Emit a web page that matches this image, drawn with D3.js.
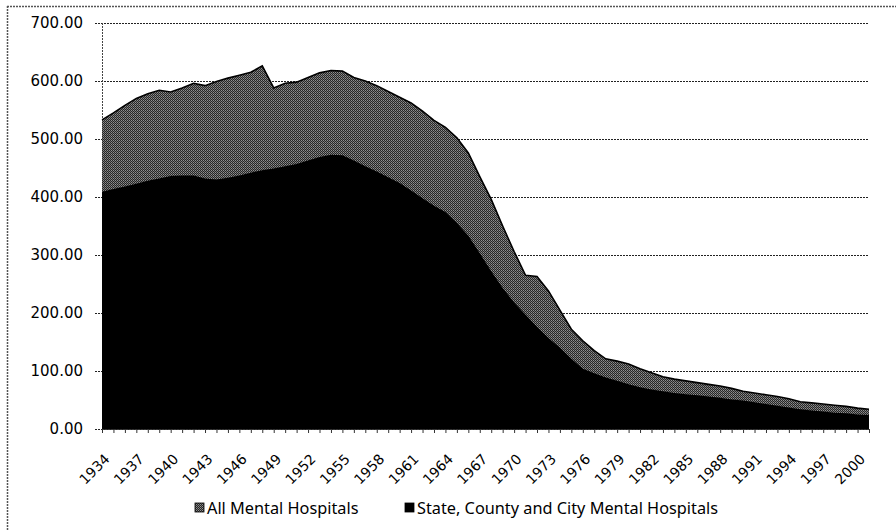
<!DOCTYPE html>
<html>
<head>
<meta charset="utf-8">
<script src="https://cdn.jsdelivr.net/npm/d3@7"></script>
<style>
  body { margin: 0; background: #fff; }
  svg { display: block; }
</style>
</head>
<body>
<svg width="896" height="531"></svg>
<script>
const width = 896, height = 531;
const svg = d3.select("svg");

// categories: one point per year, 1934 to 2001
const years = d3.range(1934, 2002);

const allHospitals = [
  533, 545, 558, 570, 578, 584, 581, 588, 596, 592,
  599, 605, 610, 615, 626, 588, 596, 598, 606, 614,
  618, 617, 606, 600, 592, 582, 572, 562, 548, 532,
  520, 502, 476, 435, 396, 350, 306, 265, 263, 238,
  205, 172, 152, 135, 121, 117, 112, 104, 97, 90,
  86, 83, 80, 77, 74, 70, 65, 62, 59, 56,
  52, 47, 45, 43, 41, 39, 36, 34
];

const stateHospitals = [
  409, 414, 418, 423, 428, 432, 436, 437, 437, 432,
  430, 433, 437, 442, 446, 449, 453, 457, 463, 469,
  473, 472, 463, 453, 444, 434, 424, 411, 398, 385,
  374, 355, 333, 303, 272, 243, 218, 197, 176, 157,
  140, 121, 104, 96, 89, 83, 77, 72, 68, 65,
  62, 60, 58, 56, 54, 51, 49, 46, 43, 40,
  37, 34, 32, 30, 28, 27, 25, 24
];

const yTicks = [0, 100, 200, 300, 400, 500, 600, 700];
const xLabelYears = [1934, 1937, 1940, 1943, 1946, 1949, 1952, 1955, 1958, 1961, 1964,
  1967, 1970, 1973, 1976, 1979, 1982, 1985, 1988, 1991, 1994, 1997, 2000];
const seriesNames = ["All Mental Hospitals", "State, County and City Mental Hospitals"];

const plot = { left: 102, right: 869, top: 23, bottom: 429 };

const x = d3.scaleLinear().domain([1934, 2001]).range([plot.left, plot.right]);
const y = d3.scaleLinear().domain([0, 700]).range([plot.bottom, plot.top]);

// dithered grey fill like the scanned original
const defs = svg.append("defs");
const pat = defs.append("pattern")
  .attr("id", "dither")
  .attr("width", 2).attr("height", 2)
  .attr("patternUnits", "userSpaceOnUse");
pat.append("rect").attr("width", 2).attr("height", 2).attr("fill", "#262626");
pat.append("rect").attr("x", 1).attr("y", 0).attr("width", 1).attr("height", 1).attr("fill", "#909090");
pat.append("rect").attr("x", 0).attr("y", 1).attr("width", 1).attr("height", 1).attr("fill", "#707070");

// outer chart border (top and left only are visible)
svg.append("line")
  .attr("x1", 7).attr("x2", width).attr("y1", 6.5).attr("y2", 6.5)
  .attr("stroke", "#555").attr("stroke-width", 1.5).attr("stroke-dasharray", "2,1");
svg.append("line")
  .attr("x1", 7.5).attr("x2", 7.5).attr("y1", 6).attr("y2", height)
  .attr("stroke", "#555").attr("stroke-width", 1.5).attr("stroke-dasharray", "2,1");

// gridlines + y labels
const yAxis = d3.axisLeft(y)
  .tickValues(yTicks)
  .tickFormat(d3.format(".2f"))
  .tickSize(-(plot.right - plot.left + 7))
  .tickPadding(12);

const gy = svg.append("g")
  .attr("transform", `translate(${plot.left - 7},0)`)
  .call(yAxis);
gy.select(".domain").remove();
gy.selectAll(".tick line")
  .attr("stroke", "#222")
  .attr("stroke-width", 1)
  .attr("stroke-dasharray", "2,1");
gy.selectAll(".tick text")
  .attr("fill", "#000")
  .style("font-family", "'DejaVu Sans', Verdana, sans-serif")
  .style("font-size", "15px");

// vertical axis line
svg.append("line")
  .attr("x1", plot.left + 0.5).attr("x2", plot.left + 0.5)
  .attr("y1", plot.top).attr("y2", plot.bottom)
  .attr("stroke", "#444").attr("stroke-dasharray", "2,1");

const area = (vals) => d3.area()
  .x((d, i) => x(years[i]))
  .y0(y(0))
  .y1(d => y(d))(vals);

const line = d3.line()
  .x((d, i) => x(years[i]))
  .y(d => y(d));

svg.append("path")
  .attr("d", area(allHospitals))
  .attr("fill", "url(#dither)");
svg.append("path")
  .attr("d", line(allHospitals))
  .attr("fill", "none")
  .attr("stroke", "#000")
  .attr("stroke-width", 1.6);

svg.append("path")
  .attr("d", area(stateHospitals))
  .attr("fill", "#000");

// x axis: a tick every year, a label every third year
const xAxis = d3.axisBottom(x)
  .tickValues(years)
  .tickSize(4)
  .tickFormat(d => xLabelYears.includes(d) ? String(d) : "");

const gx = svg.append("g")
  .attr("transform", `translate(0,${plot.bottom})`)
  .call(xAxis);
gx.select(".domain")
  .attr("stroke", "#333")
  .attr("stroke-dasharray", "2,1");
gx.selectAll(".tick line").attr("stroke", "#333");
gx.selectAll(".tick text")
  .attr("fill", "#000")
  .style("font-family", "'DejaVu Sans', Verdana, sans-serif")
  .style("font-size", "14px")
  .attr("text-anchor", "end")
  .attr("dy", 0)
  .attr("y", 0)
  .attr("transform", "translate(8,31) rotate(-45)");

// legend
const legend = svg.append("g").attr("transform", "translate(195,508)");
const items = [
  { name: seriesNames[0], fill: "url(#dither)", x: 0 },
  { name: seriesNames[1], fill: "#000", x: 210 }
];
const li = legend.selectAll("g").data(items).join("g")
  .attr("transform", d => `translate(${d.x},0)`);
li.append("rect")
  .attr("x", 0).attr("y", -5)
  .attr("width", 9).attr("height", 9)
  .attr("fill", d => d.fill)
  .attr("stroke", "#000").attr("stroke-width", 0.8);
li.append("text")
  .attr("x", 12).attr("y", 0)
  .attr("dy", "0.35em")
  .style("font-family", "'Noto Sans', sans-serif")
  .style("font-size", "16.3px")
  .text(d => d.name);
</script>
</body>
</html>
